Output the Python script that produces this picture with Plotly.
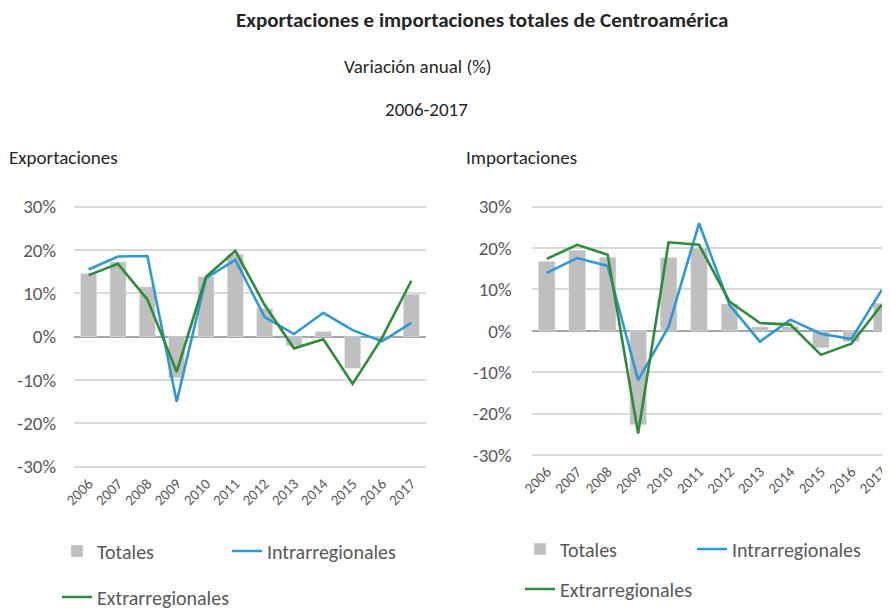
import plotly.graph_objects as go

# page body has an 8px margin, so figure is sized to fit the 890x609 window
OFF = 8
W, H = 890 - OFF, 609 - OFF
years = ["2006", "2007", "2008", "2009", "2010", "2011", "2012", "2013", "2014", "2015", "2016", "2017"]

# Exportaciones (variación anual, %)
exp_totales = [14.6, 17.3, 11.5, -9.5, 13.8, 19.0, 6.5, -2.1, 1.2, -7.3, -0.6, 9.8]
exp_intra = [15.5, 18.5, 18.6, -15.0, 13.5, 17.7, 4.5, 0.6, 5.5, 1.5, -1.1, 3.2]
exp_extra = [14.2, 16.8, 8.6, -8.1, 13.8, 19.8, 7.3, -2.7, -0.6, -10.9, -0.3, 12.9]

# Importaciones (variación anual, %)
imp_totales = [16.8, 19.5, 17.8, -22.7, 17.7, 20.0, 6.5, 1.0, 1.0, -4.1, -2.6, 6.7]
imp_intra = [14.0, 17.6, 15.7, -11.9, 1.0, 26.0, 6.3, -2.6, 2.7, -0.7, -2.0, 9.9]
imp_extra = [17.4, 20.8, 18.4, -24.8, 21.4, 20.8, 7.1, 1.9, 1.5, -5.8, -3.1, 6.3]

y_ticks = [-30, -20, -10, 0, 10, 20, 30]
y_tick_labels = ["-30%", "-20%", "-10%", "0%", "10%", "20%", "30%"]

FONT = "Carlito, Lato, sans-serif"
GRAY_TXT = "#595959"
DARK_TXT = "#262626"
BAR_COL = "#bfbfbf"
BLUE = "#2f98d6"
GREEN = "#2e8b38"

def px(x):
    return (x - OFF) / W

def py(y):
    return 1 - (y - OFF) / H

fig = go.Figure()

panels = [
    (exp_totales, exp_intra, exp_extra, "x", "y", "legend", "legend2"),
    (imp_totales, imp_intra, imp_extra, "x2", "y2", "legend3", "legend4"),
]
for tot, intra, extra, xa, ya, lg1, lg2 in panels:
    fig.add_trace(go.Bar(x=years, y=tot, name="Totales", marker_color=BAR_COL,
                         xaxis=xa, yaxis=ya, legend=lg1))
    fig.add_trace(go.Scatter(x=years, y=intra, name="Intrarregionales", mode="lines",
                             line=dict(color=BLUE, width=2.6), xaxis=xa, yaxis=ya, legend=lg1))
    fig.add_trace(go.Scatter(x=years, y=extra, name="Extrarregionales", mode="lines",
                             line=dict(color=GREEN, width=2.6), xaxis=xa, yaxis=ya, legend=lg2))

yax_common = dict(range=[-31, 31], tickvals=y_ticks, ticktext=y_tick_labels,
                  showgrid=True, gridcolor="#d9d9d9", gridwidth=1.5,
                  zeroline=True, zerolinecolor="#a6a6a6", zerolinewidth=2,
                  showline=False, ticks="",
                  tickfont=dict(family=FONT, size=19, color=GRAY_TXT), fixedrange=True)
xax_common = dict(type="category", showgrid=False, showline=False, ticks="",
                  tickangle=-45, tickfont=dict(family=FONT, size=15, color=GRAY_TXT),
                  fixedrange=True)

legend_common = dict(orientation="h", font=dict(family=FONT, size=20, color=GRAY_TXT),
                     bgcolor="rgba(0,0,0,0)", xanchor="left", yanchor="middle",
                     itemwidth=30, traceorder="normal")

fig.update_layout(
    width=W, height=H,
    margin=dict(l=0, r=0, t=0, b=0, autoexpand=False),
    paper_bgcolor="white", plot_bgcolor="white",
    barmode="overlay", bargap=0.45,
    font=dict(family=FONT, color=DARK_TXT),
    xaxis=dict(domain=[px(74), px(426)], anchor="y", range=[-0.5, 11.5], **xax_common),
    yaxis=dict(domain=[py(471), py(202.3)], anchor="x", ticklabelstandoff=17, **yax_common),
    xaxis2=dict(domain=[px(531.5), 1.0], anchor="y2", range=[-0.5, 11.27], **xax_common),
    yaxis2=dict(domain=[py(459.1), py(202.6)], anchor="x2", ticklabelstandoff=19, **yax_common),
    legend=dict(x=px(57), y=py(551), entrywidth=125, **legend_common),
    legend2=dict(x=px(57), y=py(597), **legend_common),
    legend3=dict(x=px(520), y=py(549), entrywidth=127, **legend_common),
    legend4=dict(x=px(520), y=py(589), **legend_common),
    annotations=[
        dict(text="<b>Exportaciones e importaciones totales de Centroamérica</b>",
             x=px(482), y=py(20), xref="paper", yref="paper", showarrow=False,
             xanchor="center", yanchor="middle",
             font=dict(family=FONT, size=21, color=DARK_TXT)),
        dict(text="Variación anual (%)", x=px(418), y=py(66), xref="paper", yref="paper",
             xanchor="center", yanchor="middle",
             showarrow=False, font=dict(family=FONT, size=19, color=DARK_TXT)),
        dict(text="2006-2017", x=px(426), y=py(110), xref="paper", yref="paper",
             xanchor="center", yanchor="middle",
             showarrow=False, font=dict(family=FONT, size=19, color=DARK_TXT)),
        dict(text="Exportaciones", x=px(7), y=py(157), xref="paper", yref="paper",
             xanchor="left", yanchor="middle",
             showarrow=False, font=dict(family=FONT, size=19, color=DARK_TXT)),
        dict(text="Importaciones", x=px(464), y=py(157), xref="paper", yref="paper",
             xanchor="left", yanchor="middle",
             showarrow=False, font=dict(family=FONT, size=19, color=DARK_TXT)),
    ],
)

fig.write_html("out.html")
